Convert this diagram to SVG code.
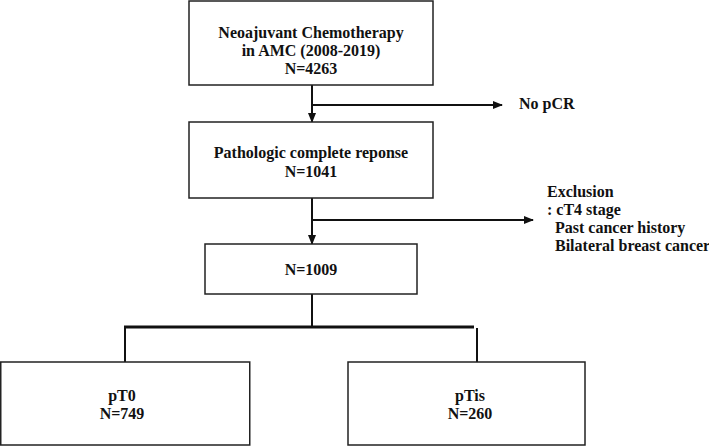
<svg xmlns="http://www.w3.org/2000/svg" width="709" height="446" viewBox="0 0 709 446">
<style>
.box{fill:#fff;stroke:#222;stroke-width:1.5}
.t{font-family:"Liberation Serif","Times New Roman",serif;font-weight:bold;font-size:16px;fill:#111}
.c{text-anchor:middle}
.ln{stroke:#111;stroke-width:2;fill:none}
.thick{stroke:#111;stroke-width:3;fill:none}
</style>
<defs>
<marker id="ah" markerWidth="10" markerHeight="8" refX="9" refY="4" orient="auto" markerUnits="userSpaceOnUse">
<path d="M0,0 L10,4 L0,8 Z" fill="#111"/>
</marker>
</defs>
<rect width="709" height="446" fill="#fff"/>
<g id="connectors">
<line class="ln" x1="312" y1="85" x2="312" y2="122" marker-end="url(#ah)"/>
<line class="ln" x1="312" y1="105" x2="502" y2="105" marker-end="url(#ah)"/>
<line class="ln" x1="312" y1="198" x2="312" y2="244" marker-end="url(#ah)"/>
<line class="ln" x1="312" y1="220" x2="533" y2="220" marker-end="url(#ah)"/>
<line class="ln" x1="312" y1="294" x2="312" y2="327"/>
<line class="thick" x1="124" y1="327" x2="474" y2="327"/>
<line class="ln" x1="125" y1="326" x2="125" y2="362"/>
<line class="ln" x1="477" y1="328" x2="477" y2="362"/>
</g>
<g id="n1">
<rect class="box" x="189" y="1" width="244" height="84"/>
<text class="t c" x="311" y="38">Neoajuvant Chemotherapy</text>
<text class="t c" x="311" y="56">in AMC (2008-2019)</text>
<text class="t c" x="311" y="74">N=4263</text>
</g>
<g id="nopcr">
<text class="t" x="519" y="109">No pCR</text>
</g>
<g id="n2">
<rect class="box" x="189" y="122" width="244" height="76"/>
<text class="t c" x="311" y="158">Pathologic complete reponse</text>
<text class="t c" x="311" y="177">N=1041</text>
</g>
<g id="exclusion">
<text class="t" x="547" y="197">Exclusion</text>
<text class="t" x="547" y="215">: cT4 stage</text>
<text class="t" x="555" y="233">Past cancer history</text>
<text class="t" x="555" y="251">Bilateral breast cancer</text>
</g>
<g id="n3">
<rect class="box" x="205" y="244" width="212" height="50"/>
<text class="t c" x="311" y="275">N=1009</text>
</g>
<g id="n4">
<rect class="box" x="0.75" y="362" width="249" height="83"/>
<text class="t c" x="122" y="401">pT0</text>
<text class="t c" x="122" y="419">N=749</text>
</g>
<g id="n5">
<rect class="box" x="348" y="362" width="237" height="83"/>
<text class="t c" x="470" y="401">pTis</text>
<text class="t c" x="470" y="419">N=260</text>
</g>
</svg>
